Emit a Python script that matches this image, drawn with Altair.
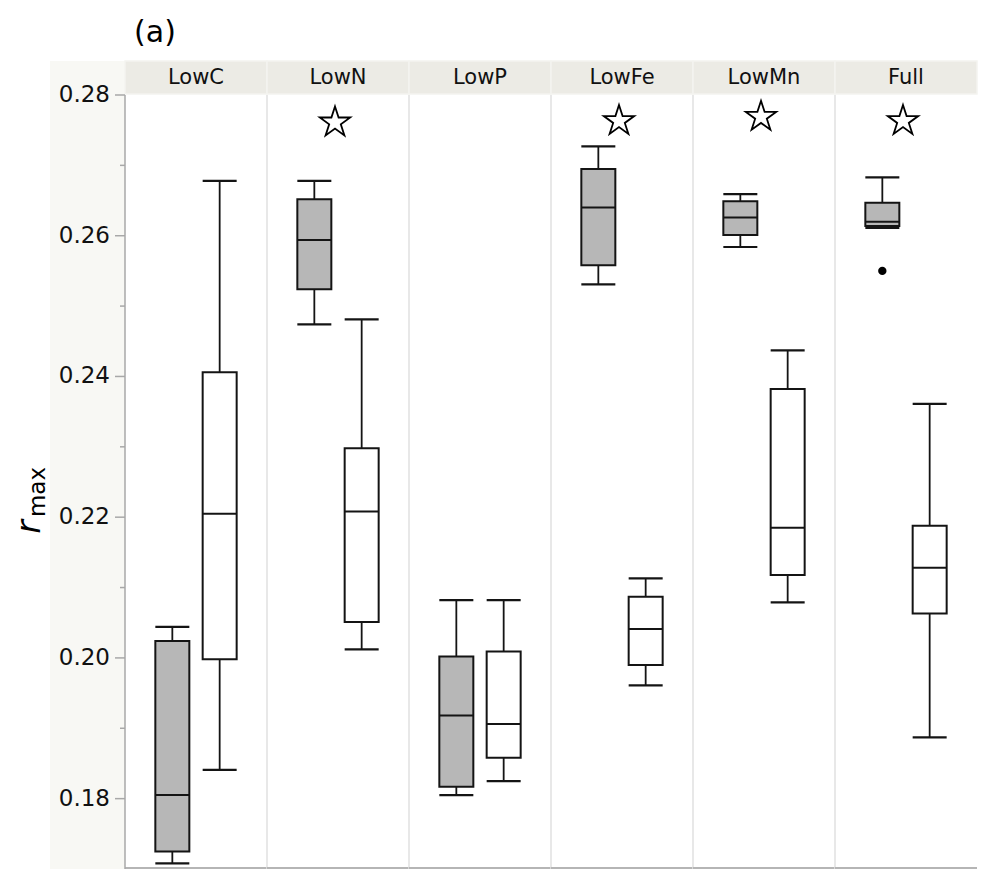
import altair as alt
import pandas as pd

# ---------------- data ----------------
conds = ["LowC", "LowN", "LowP", "LowFe", "LowMn", "Full"]
groups = ["grey", "white"]

grey_lo  = [0.1708, 0.2474, 0.1805, 0.2531, 0.2584, 0.2611]
grey_q1  = [0.1725, 0.2524, 0.1817, 0.2558, 0.2601, 0.2614]
grey_med = [0.1805, 0.2594, 0.1918, 0.2640, 0.2626, 0.2620]
grey_q3  = [0.2024, 0.2652, 0.2002, 0.2695, 0.2649, 0.2647]
grey_hi  = [0.2044, 0.2678, 0.2082, 0.2727, 0.2659, 0.2683]

white_lo  = [0.1841, 0.2012, 0.1825, 0.1961, 0.2079, 0.1887]
white_q1  = [0.1998, 0.2051, 0.1858, 0.1990, 0.2118, 0.2063]
white_med = [0.2205, 0.2208, 0.1906, 0.2041, 0.2185, 0.2128]
white_q3  = [0.2406, 0.2298, 0.2009, 0.2087, 0.2382, 0.2188]
white_hi  = [0.2678, 0.2481, 0.2082, 0.2113, 0.2437, 0.2361]

outlier_cond = ["Full"]
outlier_group = ["grey"]
outlier_val = [0.2550]

star_cond = ["LowN", "LowFe", "LowMn", "Full"]
star_val = [0.2761, 0.2763, 0.2769, 0.2763]

y_major = [0.18, 0.20, 0.22, 0.24, 0.26, 0.28]
y_minor = [0.19, 0.21, 0.23, 0.25, 0.27]
y_domain = [0.17, 0.28]

# ---------------- one long table (facet needs a single dataset) ----------------
rows = []
for i, c in enumerate(conds):
    rows.append(dict(kind="box", cond=c, group="grey", lo=grey_lo[i], q1=grey_q1[i],
                     med=grey_med[i], q3=grey_q3[i], hi=grey_hi[i]))
    rows.append(dict(kind="box", cond=c, group="white", lo=white_lo[i], q1=white_q1[i],
                     med=white_med[i], q3=white_q3[i], hi=white_hi[i]))
    rows.append(dict(kind="lab", cond=c))
for c, g, v in zip(outlier_cond, outlier_group, outlier_val):
    rows.append(dict(kind="out", cond=c, group=g, v=v))
for c, v in zip(star_cond, star_val):
    rows.append(dict(kind="star", cond=c, v=v))
for v in y_major:
    rows.append(dict(kind="major", cond="LowC", v=v))
for v in y_minor:
    rows.append(dict(kind="minor", cond="LowC", v=v))
df = pd.DataFrame(rows)

CW = 142            # one panel
H = 774
BOXW = 34
FONT = "DejaVu Sans"
STROKE = "#141414"
OFFWHITE = "#f8f8f4"
STRIP = "#ecebe5"
AXIS_GREY = "#a8a8a8"
SEP_GREY = "#e0e0e0"

X = alt.X("group:N", scale=alt.Scale(type="point", domain=groups, padding=1), axis=None)
yscale = alt.Scale(domain=y_domain, nice=False, zero=False)

is_box = "datum.kind == 'box'"
is_lab = "datum.kind == 'lab'"
is_first = "datum.kind == 'lab' && datum.cond == 'LowC'"
not_first = "datum.kind == 'lab' && datum.cond != 'LowC'"

# page furniture drawn from the first panel
bounds = alt.Chart().mark_rect(opacity=0).encode(
    x=alt.value(-117), x2=alt.value(-116), y=alt.value(-87), y2=alt.value(-86)
).transform_filter(is_first)
gutter = alt.Chart().mark_rect(color=OFFWHITE).encode(
    x=alt.value(-75), x2=alt.value(0), y=alt.value(-34), y2=alt.value(H)
).transform_filter(is_first)

strip = alt.Chart().mark_rect(color=STRIP, stroke="#f4f4f0", strokeWidth=1.5).encode(
    x=alt.value(0), x2=alt.value(CW), y=alt.value(-34), y2=alt.value(-1)
).transform_filter(is_lab)
strip_text = alt.Chart().mark_text(font=FONT, fontSize=21, color="#111111",
                                   baseline="middle", align="center").encode(
    x=alt.value(CW / 2), y=alt.value(-17), text="cond:N"
).transform_filter(is_lab)
separators = alt.Chart().mark_rule(color=SEP_GREY, strokeWidth=1.5).encode(
    x=alt.value(0), y=alt.value(0), y2=alt.value(H)
).transform_filter(not_first)
bottom_line = alt.Chart().mark_rule(color="#b5b5b5", strokeWidth=2).encode(
    x=alt.value(0), x2=alt.value(CW), y=alt.value(H - 1)
).transform_filter(is_lab)

# hand-drawn y axis (so that it sits above the tinted gutter)
axis_holder = alt.Chart().mark_rule(opacity=0).encode(
    x=X, y=alt.Y("hi:Q", scale=yscale, axis=None)
).transform_filter(is_box)
domain_line = alt.Chart().mark_rule(color=AXIS_GREY, strokeWidth=1.5).encode(
    x=alt.value(0), y=alt.value(0), y2=alt.value(H)
).transform_filter(is_first)
major_ticks = alt.Chart().mark_rule(color=AXIS_GREY, strokeWidth=1.5).encode(
    x=alt.value(-10), x2=alt.value(0), y="v:Q"
).transform_filter("datum.kind == 'major'")
minor_ticks = alt.Chart().mark_rule(color=AXIS_GREY, strokeWidth=1.5).encode(
    x=alt.value(-5), x2=alt.value(0), y="v:Q"
).transform_filter("datum.kind == 'minor'")
tick_labels = alt.Chart().mark_text(font=FONT, fontSize=23, color="#111111",
                                    align="right", baseline="middle").encode(
    x=alt.value(-15), y="v:Q", text=alt.Text("v:Q", format=".2f")
).transform_filter("datum.kind == 'major'")

whisk_lo = alt.Chart().mark_rule(color=STROKE, strokeWidth=1.8).encode(
    x=X, y="lo:Q", y2="q1:Q").transform_filter(is_box)
whisk_hi = alt.Chart().mark_rule(color=STROKE, strokeWidth=1.8).encode(
    x=X, y="q3:Q", y2="hi:Q").transform_filter(is_box)
boxes = alt.Chart().mark_bar(width=BOXW, stroke=STROKE, strokeWidth=2, opacity=1).encode(
    x=X, y="q1:Q", y2="q3:Q",
    color=alt.Color("group:N", scale=alt.Scale(domain=groups, range=["#b7b7b7", "#ffffff"]),
                    legend=None)).transform_filter(is_box)
medians = alt.Chart().mark_tick(size=BOXW, thickness=2, color=STROKE, opacity=1).encode(
    x=X, y="med:Q").transform_filter(is_box)
cap_lo = alt.Chart().mark_tick(size=BOXW, thickness=2.2, color=STROKE, opacity=1).encode(
    x=X, y="lo:Q").transform_filter(is_box)
cap_hi = alt.Chart().mark_tick(size=BOXW, thickness=2.2, color=STROKE, opacity=1).encode(
    x=X, y="hi:Q").transform_filter(is_box)

outliers = alt.Chart().mark_point(filled=True, color="#000000", size=70, opacity=1).encode(
    x=X, y="v:Q").transform_filter("datum.kind == 'out'")

star_path = ("M0,-1 L0.2245,-0.309 L0.951,-0.309 L0.3633,0.118 L0.5878,0.809 "
             "L0,0.382 L-0.5878,0.809 L-0.3633,0.118 L-0.951,-0.309 L-0.2245,-0.309 Z")
stars = alt.Chart().mark_point(shape=star_path, size=1024, filled=False,
                               stroke="#000000", strokeWidth=1.8, opacity=1).encode(
    x=alt.value(CW / 2 - 3), y="v:Q").transform_filter("datum.kind == 'star'")

lab_r = alt.Chart().mark_text(text="r", font=FONT, fontSize=33, fontStyle="italic",
                              angle=270, align="center", baseline="alphabetic",
                              color="#000000").encode(
    x=alt.value(-85), y=alt.value(432)).transform_filter(is_first)
lab_max = alt.Chart().mark_text(text="max", font=FONT, fontSize=23,
                                angle=270, align="center", baseline="alphabetic",
                                color="#000000").encode(
    x=alt.value(-80), y=alt.value(397)).transform_filter(is_first)
lab_a = alt.Chart().mark_text(text="(a)", font=FONT, fontSize=30,
                              align="center", baseline="middle",
                              color="#000000").encode(
    x=alt.value(30), y=alt.value(-62)).transform_filter(is_first)

panel = alt.layer(
    bounds, gutter, strip, strip_text, separators, bottom_line,
    axis_holder, domain_line, major_ticks, minor_ticks, tick_labels,
    whisk_lo, whisk_hi, boxes, medians, cap_lo, cap_hi,
    outliers, stars, lab_r, lab_max, lab_a,
    data=df,
).properties(width=CW, height=H)

chart = panel.facet(
    column=alt.Column("cond:N", sort=conds, header=None, title=None),
    spacing=0,
).properties(
    padding=0, background="#ffffff", bounds="flush",
).configure_view(stroke=None, fill="#ffffff")

chart.save("out.html", embed_options={"renderer": "svg", "actions": False})
